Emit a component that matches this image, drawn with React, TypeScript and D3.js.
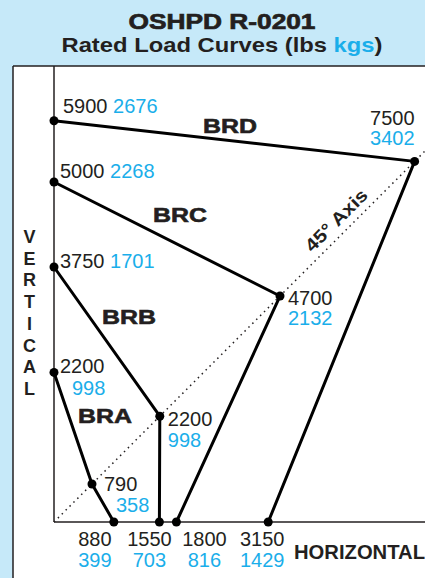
import * as d3 from 'd3';

// Rated load curves, OSHPD R-0201 — each curve: vertical capacity, capacity on
// the 45° axis and horizontal capacity, in lbs with the kg value beside it.
const curveNames = ['BRD', 'BRC', 'BRB', 'BRA'];
const verticalLbs = [5900, 5000, 3750, 2200];
const verticalKgs = [2676, 2268, 1701, 998];
const axisLbs = [7500, 4700, 2200, 790];
const axisKgs = [3402, 2132, 998, 358];
const horizontalLbs = [3150, 1800, 1550, 880];
const horizontalKgs = [1429, 816, 703, 399];
const verticalTitle = 'VERTICAL'.split('');

const W = 425;
const H = 578;
const ORIGIN = { x: 54, y: 522 };
const PX_PER_LB = 0.068;
const FONT = 'Liberation Sans, Arial, Helvetica, sans-serif';
const INK = '#231f20';
const BLUE = '#1aaeea';
const BG = '#c6e9f9';
const NUM_SIZE = 20;

// label placement, per curve (offsets from the point on the chart)
const LAYOUT = [
  { name: [203, 133], vert: { dx: 9, dy: -8, split: false }, axis: { dx: 0, dy1: -36, dy2: -16, dx2: 0, anchor: 'end' }, hor: -6 },
  { name: [153, 222], vert: { dx: 6, dy: -4, split: false }, axis: { dx: 8, dy1: 9, dy2: 29, dx2: 8, anchor: 'start' }, hor: 28 },
  { name: [102, 324], vert: { dx: 6, dy: 1, split: false }, axis: { dx: 8, dy1: 10, dy2: 31, dx2: 8, anchor: 'start' }, hor: -10 },
  { name: [78, 423], vert: { dx: 6, dy: 1, split: true }, axis: { dx: 12, dy1: 7, dy2: 28, dx2: 24, anchor: 'start' }, hor: -19 },
];

export default function App() {
  const x = d3.scaleLinear().domain([0, (W - ORIGIN.x) / PX_PER_LB]).range([ORIGIN.x, W]);
  const y = d3.scaleLinear().domain([0, (ORIGIN.y - 66) / PX_PER_LB]).range([ORIGIN.y, 66]);
  const diag = (v: number) => v / Math.SQRT2;

  const line = d3
    .line<[number, number]>()
    .x((d) => x(d[0]))
    .y((d) => y(d[1]));

  const curves = curveNames.map((name, i) => {
    const pts: [number, number][] = [
      [0, verticalLbs[i]],
      [diag(axisLbs[i]), diag(axisLbs[i])],
      [horizontalLbs[i], 0],
    ];
    return { name, i, pts };
  });

  const axisEnd = x.domain()[1];

  return (
    <svg
      width={W}
      height={H}
      viewBox={`0 0 ${W} ${H}`}
      style={{ position: 'absolute', left: 0, top: 0, display: 'block' }}
      fontFamily={FONT}
    >
      <rect x={0} y={0} width={W} height={H} fill={BG} />

      {/* ---- title ---- */}
      <text x={222} y={29} textAnchor="middle" fontSize={22} fontWeight="bold" fill={INK}
        stroke={INK} strokeWidth={0.7} textLength={187} lengthAdjust="spacingAndGlyphs">
        OSHPD R-0201
      </text>
      <text x={222} y={52} textAnchor="middle" fontSize={21} fontWeight="bold" fill={INK}
        textLength={321} lengthAdjust="spacingAndGlyphs">
        Rated Load Curves (lbs <tspan fill={BLUE}>kgs</tspan>)
      </text>

      {/* ---- panel ---- */}
      <rect x={13} y={66} width={W - 13} height={H - 66} fill="#ffffff" />
      <line x1={13} x2={W} y1={66} y2={66} stroke={INK} strokeWidth={1.5} />
      <line x1={13} x2={13} y1={66} y2={H} stroke={INK} strokeWidth={1.5} />

      {/* ---- axes ---- */}
      <line x1={x(0)} x2={x(0)} y1={y.range()[1]} y2={y(0)} stroke={INK} strokeWidth={1.5} />
      <line x1={x(0)} x2={W} y1={y(0)} y2={y(0)} stroke={INK} strokeWidth={1.5} />
      <line x1={x(0)} y1={y(0)} x2={x(axisEnd)} y2={y(axisEnd)} stroke={INK}
        strokeWidth={1.5} strokeDasharray="1.5 4" />
      <text transform={`translate(340.6, 224.6) rotate(-45)`} textAnchor="middle" fontSize={18}
        fontWeight="bold" fill={INK} textLength={80} lengthAdjust="spacingAndGlyphs">
        45° Axis
      </text>

      {verticalTitle.map((ch, k) => (
        <text key={k} x={29.5} y={243 + k * 21.7} textAnchor="middle" fontSize={18}
          fontWeight="bold" fill={INK}>
          {ch}
        </text>
      ))}
      <text x={294} y={559} fontSize={20} fontWeight="bold" fill={INK} textLength={131}
        lengthAdjust="spacingAndGlyphs">
        HORIZONTAL
      </text>

      {/* ---- curves ---- */}
      {curves.map(({ name, i, pts }) => {
        const L = LAYOUT[i];
        const [vx, vy] = [x(pts[0][0]), y(pts[0][1])];
        const [ax, ay] = [x(pts[1][0]), y(pts[1][1])];
        const hx = x(pts[2][0]);
        const hy = y(0);
        return (
          <g key={name}>
            <path d={line(pts) ?? ''} fill="none" stroke="#000" strokeWidth={3} strokeLinejoin="round" />
            {pts.map((p, k) => (
              <circle key={k} cx={x(p[0])} cy={y(p[1])} r={4.5} fill="#000" />
            ))}
            <text x={L.name[0]} y={L.name[1]} fontSize={21} fontWeight="bold" fill={INK}
              stroke={INK} strokeWidth={0.6} textLength={54} lengthAdjust="spacingAndGlyphs">
              {name}
            </text>

            {/* vertical capacity */}
            {L.vert.split ? (
              <g fontSize={NUM_SIZE}>
                <text x={vx + L.vert.dx} y={vy + L.vert.dy} fill={INK}>{verticalLbs[i]}</text>
                <text x={vx + 18} y={vy + L.vert.dy + 22} fill={BLUE}>{verticalKgs[i]}</text>
              </g>
            ) : (
              <text x={vx + L.vert.dx} y={vy + L.vert.dy} fontSize={NUM_SIZE} fill={INK}>
                {verticalLbs[i]} <tspan fill={BLUE}>{verticalKgs[i]}</tspan>
              </text>
            )}

            {/* 45° axis capacity */}
            <g fontSize={NUM_SIZE} textAnchor={L.axis.anchor}>
              <text x={ax + L.axis.dx} y={ay + L.axis.dy1} fill={INK}>{axisLbs[i]}</text>
              <text x={ax + L.axis.dx2} y={ay + L.axis.dy2} fill={BLUE}>{axisKgs[i]}</text>
            </g>

            {/* horizontal capacity */}
            <g fontSize={NUM_SIZE} textAnchor="middle">
              <text x={hx + L.hor} y={hy + 24} fill={INK}>{horizontalLbs[i]}</text>
              <text x={hx + L.hor} y={hy + 45} fill={BLUE}>{horizontalKgs[i]}</text>
            </g>
          </g>
        );
      })}
    </svg>
  );
}
